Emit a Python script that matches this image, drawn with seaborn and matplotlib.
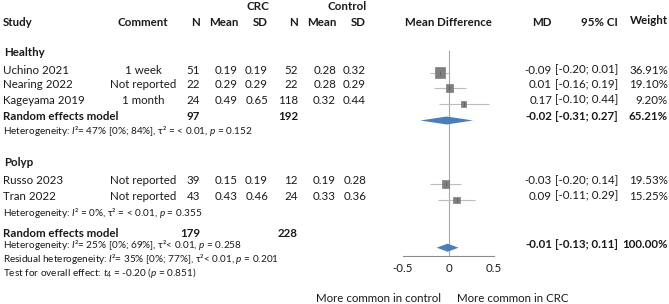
import numpy as np
import pandas as pd
import matplotlib
matplotlib.use("Agg")
import matplotlib.pyplot as plt
import seaborn as sns

# ---------------- data ----------------
studies = ["Uchino 2021", "Nearing 2022", "Kageyama 2019", "Russo 2023", "Tran 2022"]
groups = ["Healthy", "Healthy", "Healthy", "Polyp", "Polyp"]
comments = ["1 week", "Not reported", "1 month", "Not reported", "Not reported"]
n_crc = [51, 22, 24, 39, 43]
mean_crc = [0.19, 0.29, 0.49, 0.15, 0.43]
sd_crc = [0.19, 0.29, 0.65, 0.19, 0.46]
n_ctl = [52, 22, 118, 12, 24]
mean_ctl = [0.28, 0.28, 0.32, 0.19, 0.33]
sd_ctl = [0.32, 0.29, 0.44, 0.28, 0.36]
md = [-0.09, 0.01, 0.17, -0.03, 0.09]
ci_lo = [-0.20, -0.16, -0.10, -0.20, -0.11]
ci_hi = [0.01, 0.19, 0.44, 0.14, 0.29]
weight = [36.91, 19.10, 9.20, 19.53, 15.25]

pooled_names = ["Random effects model", "Random effects model"]
pooled_n_crc = [97, 179]
pooled_n_ctl = [192, 228]
pooled_md = [-0.02, -0.01]
pooled_lo = [-0.31, -0.13]
pooled_hi = [0.27, 0.11]
pooled_w = [65.21, 100.00]

x_ticks = [-0.5, 0, 0.5]
x_ticklabels = ["-0.5", "0", "0.5"]

het_healthy = r"Heterogeneity: $I$²= 47% [0%; 84%], τ² = < 0.01, $p$ = 0.152"
het_polyp = r"Heterogeneity: $I$² = 0%, τ² = < 0.01, $p$ = 0.355"
het_all = r"Heterogeneity: $I$²= 25% [0%; 69%], τ²< 0.01, $p$ = 0.258"
het_resid = r"Residual heterogeneity: $I$²= 35% [0%; 77%], τ²< 0.01, $p$ = 0.201"
test_all = r"Test for overall effect: $t_4$ = -0.20 ($p$ = 0.851)"

# ---------------- style ----------------
sns.set_style("white")
plt.rcParams["font.family"] = ["Lato", "DejaVu Sans"]
plt.rcParams["mathtext.fontset"] = "custom"
plt.rcParams["mathtext.rm"] = "Lato"
plt.rcParams["mathtext.it"] = "Lato:italic"
plt.rcParams["mathtext.bf"] = "Lato:bold"

W, H = 669, 304
fig = plt.figure(figsize=(W / 100, H / 100), dpi=100)

FS = 8.3
FS_SMALL = 7.2
TXT = "#1a1a1a"


def T(xp, yp, s, ha="left", bold=False, size=FS, **kw):
    fig.text(xp / W, 1 - yp / H, s, ha=ha, va="center", fontsize=size,
             fontweight="bold" if bold else "normal", color=TXT, **kw)


# ---------------- layout (pixel positions) ----------------
col_study = 3
col_comment = 143
col_ncrc = 200
col_mcrc = 238
col_sdcrc = 268
col_nctl = 298
col_mctl = 336
col_sdctl = 366
col_md = 552
col_ci = 618
col_w = 668

row_text = [70, 85, 100, 181, 196]
row_mark = [72.5, 88, 104, 184, 200]
pooled_left_y = [116, 233.5]
pooled_right_y = [116, 244]
pooled_mark_y = [120.5, 247.7]

# headers
T(269, 6, "CRC", ha="right", bold=True)
T(367, 6, "Control", ha="right", bold=True)
T(col_study, 22, "Study", bold=True)
T(col_comment, 22, "Comment", ha="center", bold=True)
T(col_ncrc, 22, "N", ha="right", bold=True)
T(col_mcrc, 22, "Mean", ha="right", bold=True)
T(col_sdcrc, 22, "SD", ha="right", bold=True)
T(col_nctl, 22, "N", ha="right", bold=True)
T(col_mctl, 22, "Mean", ha="right", bold=True)
T(col_sdctl, 22, "SD", ha="right", bold=True)
T(448, 22, "Mean Difference", ha="center", bold=True)
T(col_md, 22, "MD", ha="right", bold=True)
T(col_ci, 22, "95% CI", ha="right", bold=True)
T(col_w, 20, "Weight", ha="right", bold=True)

T(4, 52, "Healthy", bold=True)
T(4, 163, "Polyp", bold=True)

for i in range(len(studies)):
    y = row_text[i]
    T(col_study, y, studies[i])
    T(col_comment, y, comments[i], ha="center")
    T(col_ncrc, y, f"{n_crc[i]}", ha="right")
    T(col_mcrc, y, f"{mean_crc[i]:.2f}", ha="right")
    T(col_sdcrc, y, f"{sd_crc[i]:.2f}", ha="right")
    T(col_nctl, y, f"{n_ctl[i]}", ha="right")
    T(col_mctl, y, f"{mean_ctl[i]:.2f}", ha="right")
    T(col_sdctl, y, f"{sd_ctl[i]:.2f}", ha="right")
    T(col_md, y, f"{md[i]:.2f}", ha="right")
    T(col_ci, y, f"[{ci_lo[i]:.2f}; {ci_hi[i]:.2f}]", ha="right")
    T(col_w, y, f"{weight[i]:.2f}%", ha="right")

for j in range(2):
    yl = pooled_left_y[j]
    yr = pooled_right_y[j]
    T(col_study, yl, pooled_names[j], bold=True)
    T(col_ncrc, yl, f"{pooled_n_crc[j]}", ha="right", bold=True)
    T(col_nctl, yl, f"{pooled_n_ctl[j]}", ha="right", bold=True)
    T(col_md, yr, f"{pooled_md[j]:.2f}", ha="right", bold=True)
    T(col_ci, yr, f"[{pooled_lo[j]:.2f}; {pooled_hi[j]:.2f}]", ha="right", bold=True)
    T(col_w, yr, f"{pooled_w[j]:.2f}%", ha="right", bold=True)

T(col_study, 131, het_healthy, size=FS_SMALL)
T(col_study, 213, het_polyp, size=FS_SMALL)
T(col_study, 259, het_all + "\n" + het_resid + "\n" + test_all,
  size=FS_SMALL, linespacing=0.95)

T(378, 298, "More common in control", ha="center")
T(513, 298, "More common in CRC", ha="center")

# ---------------- forest axes ----------------
ax_left, ax_right, ax_bottom_px = 403, 494, 256
ax = fig.add_axes([ax_left / W, 1 - ax_bottom_px / H, (ax_right - ax_left) / W, ax_bottom_px / H])
ax.set_xlim(-0.5, 0.5)
ax.set_ylim(ax_bottom_px, 0)
ax.patch.set_alpha(0)
for s in ["top", "right", "left"]:
    ax.spines[s].set_visible(False)
ax.spines["bottom"].set_color("#8c8c8c")
ax.spines["bottom"].set_linewidth(0.8)
ax.set_yticks([])
ax.set_xticks(x_ticks)
ax.set_xticklabels(x_ticklabels)
ax.tick_params(axis="x", direction="in", length=7, width=0.8, color="#8c8c8c",
               labelsize=FS, pad=5, labelcolor=TXT)

# zero line
ax.vlines(0, 50, ax_bottom_px, color="#a6a6a6", lw=0.8, zorder=1)

df = pd.DataFrame({"study": studies, "md": md, "lo": ci_lo, "hi": ci_hi,
                   "w": weight, "y": row_mark})

ax.hlines(df["y"], df["lo"], df["hi"], color="#bdbdbd", lw=0.8, zorder=2)
sns.scatterplot(data=df, x="md", y="y", size="w", sizes=(13, 52), size_norm=(9.2, 36.91),
                marker="s", color="#7f7f7f", edgecolor="#6e6e6e", linewidth=0.4,
                legend=False, ax=ax, zorder=3, clip_on=False)
ax.scatter(df["md"], df["y"], marker="|", s=6, color="#555555", linewidths=0.5, zorder=4)

for j in range(2):
    yc = pooled_mark_y[j]
    h = 4.0
    xs = [pooled_lo[j], pooled_md[j], pooled_hi[j], pooled_md[j]]
    ys = [yc, yc - h, yc, yc + h]
    ax.fill(xs, ys, color="#4a7ebb", zorder=3, clip_on=False, lw=0)

ax.set_xlabel("")
ax.set_ylabel("")
ax.set_ylim(ax_bottom_px, 0)

fig.savefig("out.png", dpi=100)
